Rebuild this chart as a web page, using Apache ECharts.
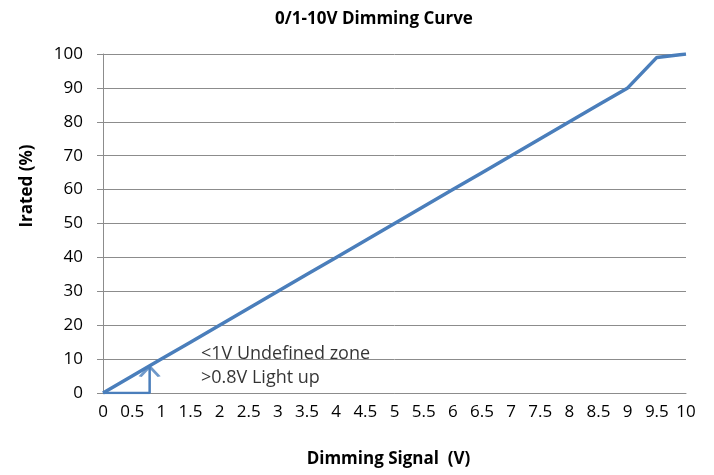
<!DOCTYPE html>
<html>
<head>
<meta charset="utf-8">
<script src="https://cdn.jsdelivr.net/npm/echarts@6/dist/echarts.min.js"></script>
<style>
  html, body { margin: 0; padding: 0; background: #fff; }
  #chart { width: 714px; height: 475px; }
</style>
</head>
<body>
<div id="chart"></div>
<script>
// dimming curve
var signalV = [0, 0.5, 1, 1.5, 2, 2.5, 3, 3.5, 4, 4.5, 5, 5.5, 6, 6.5, 7, 7.5, 8, 8.5, 9, 9.5, 10];
var irated  = [0, 5, 10, 15, 20, 25, 30, 35, 40, 45, 50, 55, 60, 65, 70, 75, 80, 85, 90, 99, 100];

// light-up marker (bracket from origin up to 0.8V)
var lightUpX = [0, 0.8, 0.8];
var lightUpY = [0, 0, 7.8];

var notes = ['<1V Undefined zone', '>0.8V Light up'];
var notesX = [1.68, 1.68];
var notesY = [11.4, 4.4];

var blue = '#4a7ebb';
var grey = '#8c8c8c';
var font = '"Open Sans", sans-serif';

var chart = echarts.init(document.getElementById('chart'));

var option = {
  animation: false,
  title: {
    text: '0/1-10V Dimming Curve',
    left: 369, top: 6, textAlign: 'center',
    textStyle: { fontFamily: font, fontSize: 17, fontWeight: 'bold', color: '#000' }
  },
  grid: { left: 103, right: 28, top: 54, bottom: 82 },
  xAxis: {
    type: 'value', min: 0, max: 10, interval: 0.5,
    name: 'Dimming Signal  (V)', nameLocation: 'middle', nameGap: 58,
    nameTextStyle: { fontFamily: font, fontSize: 17, fontWeight: 'bold', color: '#000', padding: [0, 12, 0, 0] },
    axisLine: { show: true, lineStyle: { color: grey } },
    axisTick: { show: false },
    splitLine: { show: false },
    axisLabel: { fontFamily: font, fontSize: 17, color: '#000', margin: 11 }
  },
  yAxis: {
    type: 'value', min: 0, max: 100, interval: 10,
    axisLine: { show: true, lineStyle: { color: grey } },
    axisTick: { show: true, length: 6, lineStyle: { color: grey } },
    splitLine: { show: true, lineStyle: { color: grey, width: 1 } },
    axisLabel: { fontFamily: font, fontSize: 17, color: '#000', margin: 20 }
  },
  graphic: [{
    type: 'text', x: 27, y: 186, rotation: Math.PI / 2,
    style: {
      text: 'Irated (%)', fontFamily: font, fontSize: 17, fontWeight: 'bold',
      fill: '#000', align: 'center', verticalAlign: 'middle'
    }
  }],
  series: [
    {
      type: 'line', z: 3,
      data: signalV.map(function (x, i) { return [x, irated[i]]; }),
      symbol: 'none',
      lineStyle: { color: blue, width: 3.5 }
    },
    {
      type: 'line', z: 4,
      data: lightUpX.map(function (x, i) { return [x, lightUpY[i]]; }),
      symbol: 'none',
      lineStyle: { color: blue, width: 2.5 }
    },
    {
      type: 'scatter', z: 4,
      data: [[lightUpX[2], lightUpY[2]]],
      symbol: 'path://M0,10 L10,0 L20,10',
      symbolSize: [19, 10],
      symbolOffset: [0, 5],
      itemStyle: { color: 'none', borderColor: blue, borderWidth: 2.5 }
    },
    {
      type: 'scatter', z: 5,
      data: notes.map(function (t, i) { return { value: [notesX[i], notesY[i]], name: t }; }),
      symbolSize: 0,
      label: {
        show: true, position: 'right', distance: 0,
        formatter: function (p) { return p.name; },
        fontFamily: font, fontSize: 18, color: '#000'
      }
    }
  ]
};

chart.setOption(option);
</script>
</body>
</html>
